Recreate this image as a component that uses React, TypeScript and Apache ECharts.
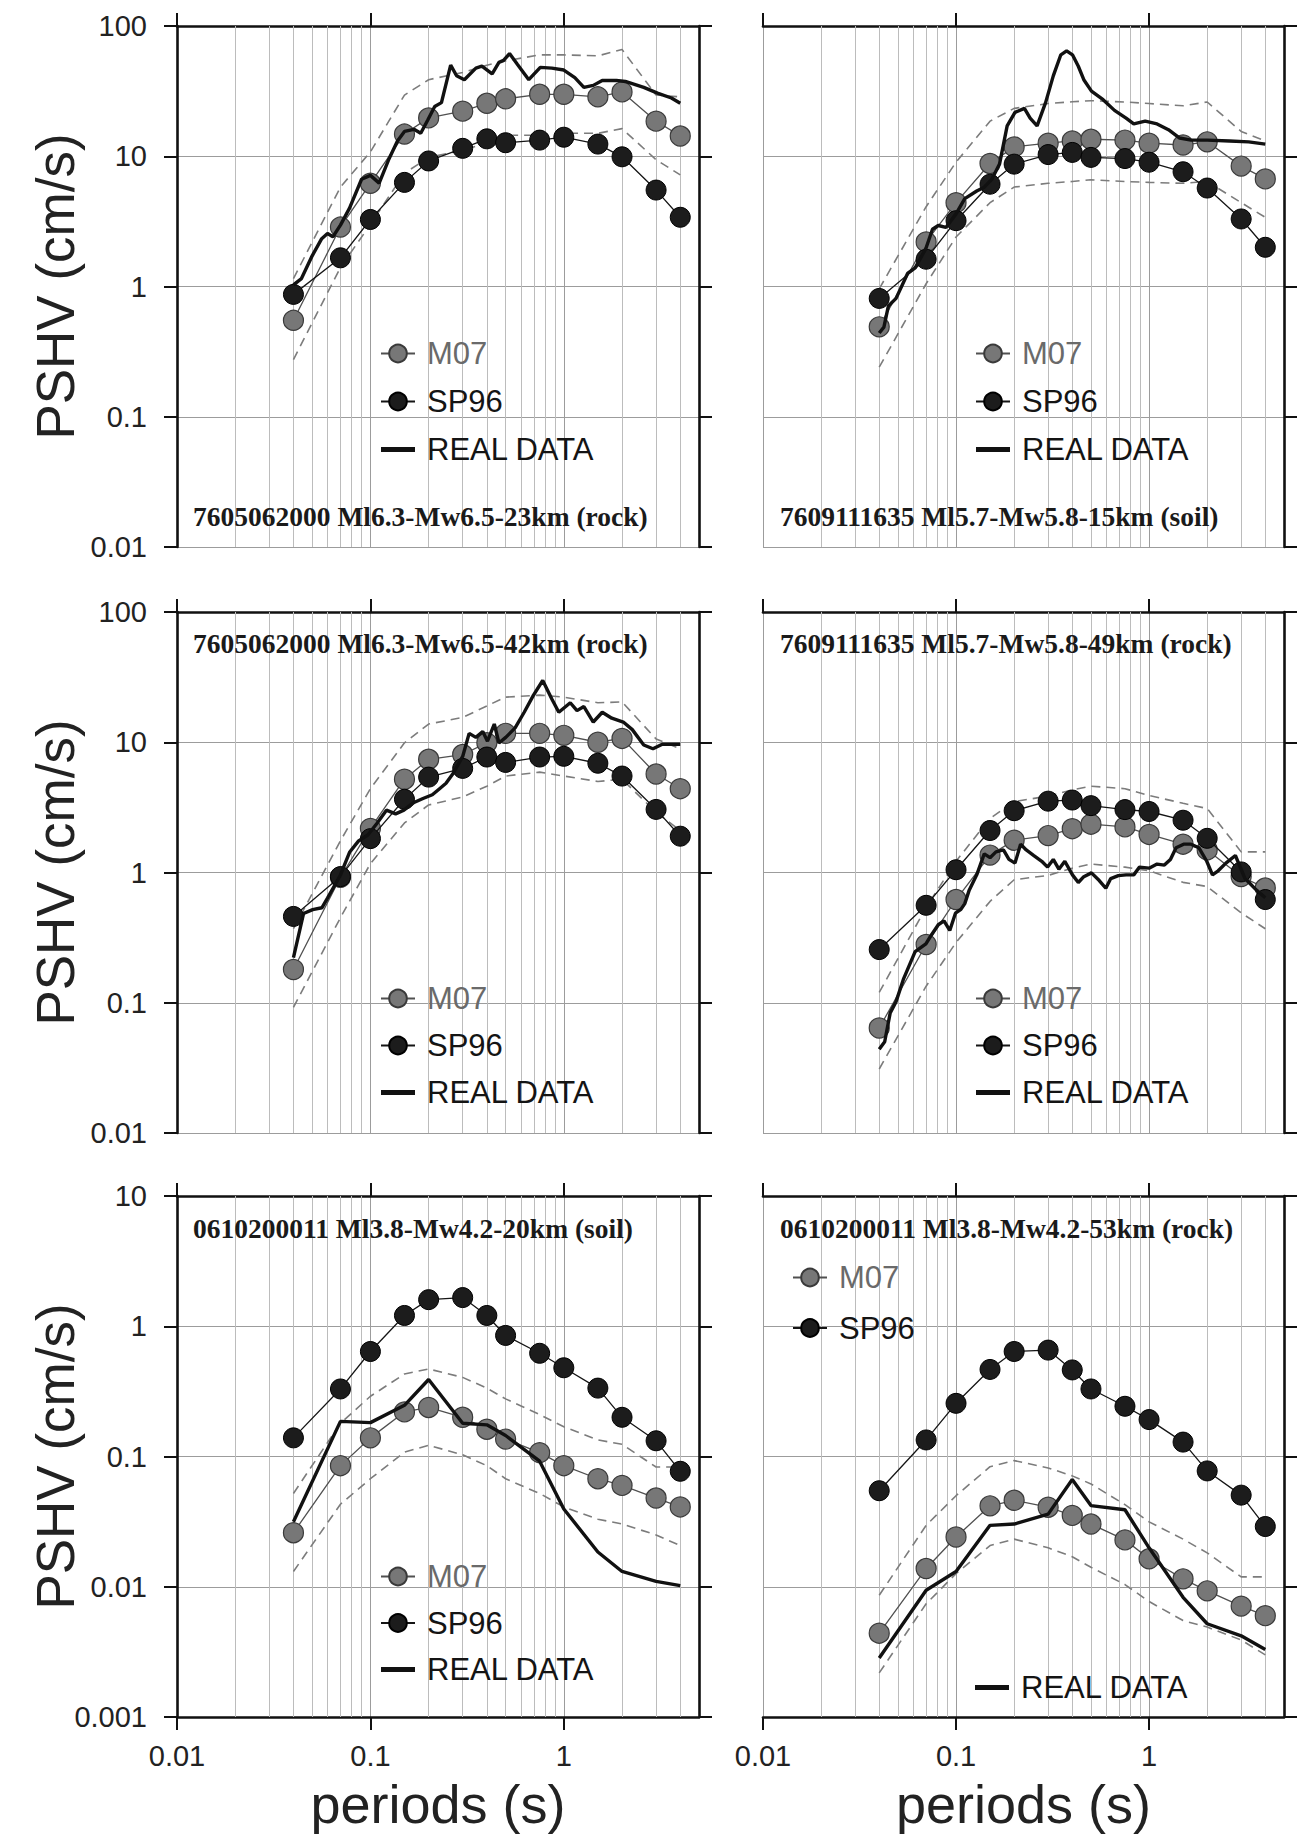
import React, { useEffect, useRef } from 'react';
import * as echarts from 'echarts';

// ---------- shared axes / ticks ----------
const PERIODS = [0.04, 0.07, 0.1, 0.15, 0.2, 0.3, 0.4, 0.5, 0.75, 1, 1.5, 2, 3, 4];
const X_TICKS = [0.01, 0.1, 1];
const X_TICK_LABELS = ['0.01', '0.1', '1'];
const X_MINOR = [0.02, 0.03, 0.04, 0.05, 0.06, 0.07, 0.08, 0.09, 0.2, 0.3, 0.4, 0.5, 0.6, 0.7, 0.8, 0.9, 2, 3, 4];
const Y_TICKS_HIGH = [0.01, 0.1, 1, 10, 100];
const Y_LABELS_HIGH = ['0.01', '0.1', '1', '10', '100'];
const Y_TICKS_LOW = [0.001, 0.01, 0.1, 1, 10];
const Y_LABELS_LOW = ['0.001', '0.01', '0.1', '1', '10'];
const X_TITLE = 'periods (s)';
const Y_TITLE = 'PSHV (cm/s)';

const TITLES = [
  '7605062000 Ml6.3-Mw6.5-23km (rock)',
  '7609111635 Ml5.7-Mw5.8-15km (soil)',
  '7605062000 Ml6.3-Mw6.5-42km (rock)',
  '7609111635 Ml5.7-Mw5.8-49km (rock)',
  '0610200011 Ml3.8-Mw4.2-20km (soil)',
  '0610200011 Ml3.8-Mw4.2-53km (rock)',
];

// ---------- panel 1 ----------
const P1_M07 = [0.55, 2.86, 6.2, 14.8, 19.7, 22.2, 25.5, 27.6, 29.9, 29.9, 28.6, 31.2, 18.6, 14.3];
const P1_SP96 = [0.87, 1.66, 3.27, 6.3, 9.2, 11.5, 13.6, 12.7, 13.3, 14.0, 12.4, 9.9, 5.5, 3.4];
const P1_UP = [1.15, 5.8, 10.8, 29.5, 38.7, 44, 50, 54, 60, 60, 59, 66, 29.5, 28.6];
const P1_LO = [0.275, 1.4, 3.0, 7.4, 9.8, 11.1, 12.7, 14.5, 14.5, 15, 15, 16.3, 9.4, 7.2];
const P1_REAL = [
  [0.04, 1.03], [0.044, 1.15], [0.05, 1.72], [0.056, 2.33], [0.06, 2.55], [0.064, 2.41], [0.07, 2.96],
  [0.078, 4.0], [0.09, 6.66], [0.1, 7.13], [0.111, 6.22], [0.124, 9.35], [0.138, 13.1], [0.15, 15.5],
  [0.168, 16.1], [0.182, 15.0], [0.198, 19.0], [0.215, 24.1], [0.233, 25.8], [0.26, 50.1], [0.279, 41.5],
  [0.306, 38.7], [0.351, 47.5], [0.377, 49.1], [0.426, 42.9], [0.462, 52.6], [0.488, 54.4], [0.524, 61.4],
  [0.575, 50.8], [0.659, 38.7], [0.756, 48.1], [0.867, 47.5], [1.0, 45.9], [1.14, 40.1], [1.27, 33.8],
  [1.42, 35.0], [1.58, 38.2], [1.87, 38.2], [2.08, 37.5], [2.32, 35.7], [2.59, 33.8], [3.05, 30.5],
  [3.6, 28.0], [4.0, 25.5],
];

// ---------- panel 2 ----------
const P2_M07 = [0.49, 2.2, 4.4, 8.8, 11.8, 12.6, 13.1, 13.5, 13.3, 12.6, 12.2, 12.9, 8.4, 6.7];
const P2_SP96 = [0.81, 1.62, 3.2, 6.1, 8.7, 10.3, 10.7, 9.8, 9.6, 9.0, 7.6, 5.7, 3.3, 2.0];
const P2_UP = [0.96, 4.1, 9.0, 18.6, 23.3, 25.4, 26.2, 26.7, 26.1, 25.4, 24.4, 26.1, 15.5, 13.1];
const P2_LO = [0.24, 1.05, 2.4, 4.4, 5.8, 6.2, 6.4, 6.6, 6.4, 6.3, 6.2, 6.4, 4.4, 3.4];
const P2_REAL = [
  [0.04, 0.44], [0.0423, 0.488], [0.0446, 0.708], [0.0489, 0.811], [0.0561, 1.26], [0.0614, 1.39],
  [0.0698, 1.96], [0.0755, 2.75], [0.0809, 2.94], [0.0886, 2.84], [0.1, 3.61], [0.111, 4.73],
  [0.128, 5.41], [0.14, 5.79], [0.153, 6.64], [0.168, 8.71], [0.184, 17.1], [0.202, 21.7],
  [0.226, 23.3], [0.242, 19.6], [0.263, 17.1], [0.291, 25.8], [0.319, 41.4], [0.349, 60.1],
  [0.374, 64.4], [0.401, 60.1], [0.43, 49.1], [0.459, 38.7], [0.503, 31.6], [0.578, 27.2],
  [0.662, 22.5], [0.76, 19.6], [0.833, 17.7], [0.955, 18.6], [1.1, 17.7], [1.26, 16.0], [1.44, 13.8],
  [1.65, 13.3], [2.0, 13.3], [2.61, 13.1], [3.28, 12.9], [4.0, 12.4],
];

// ---------- panel 3 ----------
const P3_M07 = [0.18, 0.92, 2.18, 5.2, 7.4, 8.05, 9.9, 11.7, 11.7, 11.3, 10.0, 10.7, 5.7, 4.4];
const P3_SP96 = [0.46, 0.93, 1.82, 3.65, 5.4, 6.3, 7.7, 7.0, 7.7, 7.8, 6.9, 5.5, 3.05, 1.9];
const P3_UP = [0.37, 1.75, 4.4, 9.9, 13.8, 15.5, 19, 22.2, 23, 22.2, 20.1, 20.4, 10.6, 8.9];
const P3_LO = [0.092, 0.45, 1.17, 2.4, 3.3, 3.8, 4.6, 5.5, 5.9, 5.5, 5.0, 5.2, 2.9, 2.1];
const P3_REAL = [
  [0.04, 0.222], [0.0451, 0.484], [0.0503, 0.519], [0.0561, 0.536], [0.06, 0.635], [0.0699, 0.953],
  [0.078, 1.43], [0.0869, 1.75], [0.097, 1.94], [0.108, 2.38], [0.121, 3.01], [0.135, 2.82],
  [0.149, 3.01], [0.168, 3.45], [0.187, 3.7], [0.209, 3.95], [0.227, 4.38], [0.246, 4.84],
  [0.267, 5.74], [0.3, 7.78], [0.324, 11.7], [0.351, 10.9], [0.381, 12.1], [0.403, 10.2],
  [0.437, 13.8], [0.462, 9.87], [0.501, 10.9], [0.56, 12.9], [0.624, 17.0], [0.697, 23.0],
  [0.778, 29.8], [0.867, 21.5], [0.942, 17.0], [1.08, 20.1], [1.17, 17.5], [1.27, 18.8], [1.42, 14.3],
  [1.58, 17.0], [1.77, 15.3], [2.03, 14.3], [2.26, 12.5], [2.59, 9.53], [2.89, 8.91], [3.23, 9.66],
  [4.0, 9.66],
];

// ---------- panel 4 ----------
const P4_M07 = [0.064, 0.28, 0.62, 1.36, 1.77, 1.92, 2.17, 2.35, 2.24, 1.96, 1.65, 1.49, 0.93, 0.76];
const P4_SP96 = [0.256, 0.56, 1.05, 2.1, 2.98, 3.53, 3.6, 3.26, 3.04, 2.94, 2.52, 1.83, 1.01, 0.62];
const P4_UP = [0.12, 0.54, 1.22, 2.6, 3.5, 3.86, 4.3, 4.6, 4.4, 3.9, 3.4, 3.1, 1.44, 1.44];
const P4_LO = [0.031, 0.134, 0.29, 0.6, 0.88, 0.95, 1.08, 1.16, 1.1, 1.03, 0.84, 0.78, 0.49, 0.37];
const P4_REAL = [
  [0.04, 0.0439], [0.0427, 0.0502], [0.0456, 0.0836], [0.0489, 0.102], [0.0536, 0.154], [0.0614, 0.247],
  [0.0698, 0.283], [0.0738, 0.324], [0.0809, 0.397], [0.0866, 0.426], [0.0928, 0.359], [0.0993, 0.487],
  [0.106, 0.521], [0.111, 0.577], [0.117, 0.732], [0.128, 0.959], [0.14, 1.39], [0.15, 1.3],
  [0.161, 1.44], [0.176, 1.49], [0.188, 1.26], [0.202, 1.18], [0.216, 1.65], [0.231, 1.49],
  [0.253, 1.35], [0.278, 1.22], [0.298, 1.1], [0.319, 1.26], [0.341, 1.06], [0.366, 1.22],
  [0.401, 0.959], [0.43, 0.838], [0.459, 0.929], [0.503, 0.993], [0.552, 0.867], [0.597, 0.757],
  [0.633, 0.898], [0.693, 0.946], [0.76, 0.959], [0.833, 0.959], [0.892, 1.1], [1.0, 1.08],
  [1.1, 1.16], [1.2, 1.14], [1.29, 1.26], [1.38, 1.55], [1.51, 1.65], [1.65, 1.65], [1.81, 1.55],
  [1.99, 1.22], [2.13, 0.959], [2.28, 1.03], [2.5, 1.18], [2.8, 1.35], [3.14, 0.898], [3.6, 0.732],
  [4.0, 0.64],
];

// ---------- panel 5 ----------
const P5_M07 = [0.026, 0.085, 0.139, 0.22, 0.238, 0.2, 0.162, 0.136, 0.107, 0.085, 0.0675, 0.06, 0.048, 0.041];
const P5_SP96 = [0.139, 0.33, 0.64, 1.21, 1.6, 1.66, 1.21, 0.85, 0.62, 0.48, 0.335, 0.2, 0.132, 0.077];
const P5_UP = [0.052, 0.18, 0.29, 0.43, 0.47, 0.405, 0.335, 0.277, 0.21, 0.169, 0.134, 0.124, 0.083, 0.083];
const P5_LO = [0.0131, 0.043, 0.0675, 0.108, 0.122, 0.103, 0.085, 0.0675, 0.052, 0.041, 0.033, 0.0303, 0.025, 0.0207];
const P5_REAL_V = [0.0315, 0.186, 0.182, 0.247, 0.39, 0.18, 0.175, 0.145, 0.092, 0.0395, 0.0185, 0.0131, 0.011, 0.0102];

// ---------- panel 6 ----------
const P6_M07 = [0.0044, 0.0138, 0.0241, 0.0418, 0.0461, 0.0408, 0.0353, 0.0303, 0.0229, 0.0164, 0.0115, 0.0093, 0.0071, 0.006];
const P6_SP96 = [0.0546, 0.134, 0.256, 0.466, 0.64, 0.656, 0.462, 0.33, 0.243, 0.192, 0.129, 0.0775, 0.0505, 0.029];
const P6_UP = [0.0086, 0.0296, 0.05, 0.0835, 0.093, 0.0817, 0.071, 0.0616, 0.0427, 0.0315, 0.0232, 0.0182, 0.0119, 0.0119];
const P6_LO = [0.00218, 0.0074, 0.0126, 0.0207, 0.0232, 0.0199, 0.017, 0.0141, 0.0104, 0.0077, 0.0055, 0.0049, 0.0039, 0.003];
const P6_REAL_V = [0.00284, 0.0094, 0.0131, 0.0296, 0.0303, 0.0361, 0.0665, 0.042, 0.039, 0.0199, 0.0083, 0.0052, 0.0042, 0.0033];

// ---------- layout (styles) ----------
const SANS = '"Liberation Sans", Arial, sans-serif';
const SERIF = '"Liberation Serif", "Times New Roman", serif';
const AXIS = '#111111';
const BOXES = [
  { left: 177, top: 26, width: 522, height: 521 },
  { left: 763, top: 26, width: 521, height: 521 },
  { left: 177, top: 612, width: 522, height: 521 },
  { left: 763, top: 612, width: 521, height: 521 },
  { left: 177, top: 1196, width: 522, height: 521 },
  { left: 763, top: 1196, width: 521, height: 521 },
];
const TITLE_POS = [
  [193, 516], [780, 516], [193, 643], [780, 643], [193, 1228], [780, 1228],
];
const LEGEND_POS = [
  { left: 380, top: 338, gap: 17, names: ['M07', 'SP96', 'REAL DATA'] },
  { left: 975, top: 338, gap: 17, names: ['M07', 'SP96', 'REAL DATA'] },
  { left: 380, top: 983, gap: 16, names: ['M07', 'SP96', 'REAL DATA'] },
  { left: 975, top: 983, gap: 16, names: ['M07', 'SP96', 'REAL DATA'] },
  { left: 380, top: 1561, gap: 15.5, names: ['M07', 'SP96', 'REAL DATA'] },
  { left: 792, top: 1262, gap: 19.5, names: ['M07', 'SP96'] },
  { left: 975, top: 1672, gap: 18, names: ['REAL DATA'] },
];

const PANELS = [
  { m07: P1_M07, sp96: P1_SP96, up: P1_UP, lo: P1_LO, real: P1_REAL },
  { m07: P2_M07, sp96: P2_SP96, up: P2_UP, lo: P2_LO, real: P2_REAL },
  { m07: P3_M07, sp96: P3_SP96, up: P3_UP, lo: P3_LO, real: P3_REAL },
  { m07: P4_M07, sp96: P4_SP96, up: P4_UP, lo: P4_LO, real: P4_REAL },
  { m07: P5_M07, sp96: P5_SP96, up: P5_UP, lo: P5_LO, real: PERIODS.map((p, k) => [p, P5_REAL_V[k]]) },
  { m07: P6_M07, sp96: P6_SP96, up: P6_UP, lo: P6_LO, real: PERIODS.map((p, k) => [p, P6_REAL_V[k]]) },
];

function fmt(values: number[], labels: string[]) {
  return (v: number) => {
    const i = values.findIndex((t) => Math.abs(Math.log10(t) - Math.log10(v)) < 1e-6);
    return i >= 0 ? labels[i] : '';
  };
}

function buildOption() {
  const grid: any[] = [];
  const xAxis: any[] = [];
  const yAxis: any[] = [];
  const series: any[] = [];

  PANELS.forEach((p, i) => {
    const row = Math.floor(i / 2);
    const col = i % 2;
    const bottomRow = row === 2;
    const leftCol = col === 0;
    const b = BOXES[i];
    grid.push({ ...b, containLabel: false, outerBoundsMode: 'none', show: false });

    const yTicks = bottomRow ? Y_TICKS_LOW : Y_TICKS_HIGH;
    const yLabels = bottomRow ? Y_LABELS_LOW : Y_LABELS_HIGH;
    const yMin = yTicks[0];
    const yMax = yTicks[yTicks.length - 1];

    // main bottom x axis
    xAxis.push({
      type: 'log', logBase: 10, gridIndex: i, min: 0.01, max: 5, position: 'bottom',
      axisLine: { show: bottomRow, onZero: false, lineStyle: { color: AXIS, width: 2.6 } },
      axisTick: { show: bottomRow, inside: false, length: 13, customValues: X_TICKS, lineStyle: { color: AXIS, width: 2 } },
      axisLabel: {
        show: bottomRow, customValues: X_TICKS, formatter: fmt(X_TICKS, X_TICK_LABELS),
        fontSize: 29, color: '#222', margin: 24, fontFamily: SANS,
      },
      splitLine: { show: true, lineStyle: { color: '#9c9c9c', width: 1 } },
      name: bottomRow ? X_TITLE : '', nameLocation: 'middle', nameGap: 60, nameMoveOverlap: false,
      nameTextStyle: { fontSize: 54, color: '#222', fontFamily: SANS },
    });
    // top border axis
    xAxis.push({
      type: 'log', logBase: 10, gridIndex: i, min: 0.01, max: 5, position: 'top',
      axisLine: { show: true, onZero: false, lineStyle: { color: AXIS, width: 2.6 } },
      axisTick: { show: true, inside: false, length: 13, customValues: X_TICKS, lineStyle: { color: AXIS, width: 2 } },
      axisLabel: { show: false }, splitLine: { show: false },
    });
    // minor vertical grid helper axis
    xAxis.push({
      type: 'log', logBase: 10, gridIndex: i, min: 0.01, max: 5, position: 'bottom',
      axisLine: { show: false },
      axisTick: { show: true, inside: true, length: b.height, customValues: X_MINOR, lineStyle: { color: '#bcbcbc', width: 1 } },
      axisLabel: { show: false }, splitLine: { show: false },
    });

    // main left y axis
    yAxis.push({
      type: 'log', logBase: 10, gridIndex: i, min: yMin, max: yMax, position: 'left',
      axisLine: { show: leftCol, onZero: false, lineStyle: { color: AXIS, width: 2.6 } },
      axisTick: { show: leftCol, inside: false, length: 13, customValues: yTicks, lineStyle: { color: AXIS, width: 2 } },
      axisLabel: {
        show: leftCol, customValues: yTicks, formatter: fmt(yTicks, yLabels),
        fontSize: 29, color: '#222', margin: 30, fontFamily: SANS,
      },
      splitLine: { show: true, lineStyle: { color: '#9c9c9c', width: 1 } },
      name: leftCol ? Y_TITLE : '', nameLocation: 'middle', nameGap: 95, nameRotate: 90, nameMoveOverlap: false,
      nameTextStyle: { fontSize: 53, color: '#222', fontFamily: SANS },
    });
    // right border axis
    yAxis.push({
      type: 'log', logBase: 10, gridIndex: i, min: yMin, max: yMax, position: 'right',
      axisLine: { show: true, onZero: false, lineStyle: { color: AXIS, width: 2.6 } },
      axisTick: { show: true, inside: false, length: 13, customValues: yTicks, lineStyle: { color: AXIS, width: 2 } },
      axisLabel: { show: false }, splitLine: { show: false },
    });

    const xi = i * 3;
    const yi = i * 2;
    const dashed = { color: '#7c7c7c', width: 1.6, type: [9, 6] };
    series.push({
      name: 'M07 +1 sigma', type: 'line', xAxisIndex: xi, yAxisIndex: yi, silent: true, z: 3,
      data: PERIODS.map((t, k) => [t, p.up[k]]), symbol: 'none', lineStyle: dashed,
    });
    series.push({
      name: 'M07 -1 sigma', type: 'line', xAxisIndex: xi, yAxisIndex: yi, silent: true, z: 3,
      data: PERIODS.map((t, k) => [t, p.lo[k]]), symbol: 'none', lineStyle: dashed,
    });
    series.push({
      name: 'M07', type: 'line', xAxisIndex: xi, yAxisIndex: yi, z: 4,
      data: PERIODS.map((t, k) => [t, p.m07[k]]), symbol: 'circle', symbolSize: 20,
      itemStyle: { color: '#777777', borderColor: '#3a3a3a', borderWidth: 1.2 },
      lineStyle: { color: '#505050', width: 1.3 },
    });
    series.push({
      name: 'SP96', type: 'line', xAxisIndex: xi, yAxisIndex: yi, z: 5,
      data: PERIODS.map((t, k) => [t, p.sp96[k]]), symbol: 'circle', symbolSize: 20,
      itemStyle: { color: '#1c1c1c', borderColor: '#000', borderWidth: 1 },
      lineStyle: { color: '#151515', width: 1.3 },
    });
    series.push({
      name: 'REAL DATA', type: 'line', xAxisIndex: xi, yAxisIndex: yi, z: 6,
      data: p.real, symbol: 'none',
      itemStyle: { color: '#111' },
      lineStyle: { color: '#111', width: 3.4 },
    });
  });

  const legendItem = (n: string) => {
    if (n === 'M07') return { name: n, textStyle: { color: '#6a6a6a' } };
    if (n === 'REAL DATA') return { name: n, icon: 'path://M0,0H34V5H0Z' };
    return { name: n };
  };

  const legend = LEGEND_POS.map((l) => ({
    left: l.left, top: l.top, orient: 'vertical', itemGap: l.gap, itemWidth: 34, itemHeight: 22,
    padding: 0, selectedMode: false, data: l.names.map(legendItem),
    textStyle: { fontSize: 31, color: '#141414', fontFamily: SANS, padding: [0, 0, 0, 7] },
  }));

  const graphic = TITLES.map((t, i) => ({
    type: 'text', x: TITLE_POS[i][0], y: TITLE_POS[i][1], z: 10,
    style: {
      text: t, fontSize: 27.5, fontWeight: 'bold', fontFamily: SERIF, fill: '#1a1a1a',
      verticalAlign: 'middle', align: 'left',
    },
  }));

  return {
    animation: false,
    backgroundColor: '#ffffff',
    textStyle: { fontFamily: SANS },
    grid, xAxis, yAxis, series, legend, graphic,
  };
}

export default function App() {
  const ref = useRef<HTMLDivElement>(null);
  useEffect(() => {
    document.body.style.margin = '0';
    const chart = echarts.init(ref.current!, null, { renderer: 'svg' });
    chart.setOption(buildOption() as any);
    return () => chart.dispose();
  }, []);
  return (
    <div
      ref={ref}
      style={{ position: 'absolute', left: 0, top: 0, width: 1302, height: 1837, background: '#fff' }}
    />
  );
}
